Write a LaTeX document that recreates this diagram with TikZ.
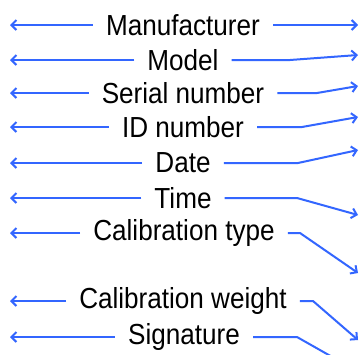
\documentclass[tikz,border=0pt]{standalone}
\usepackage{fontspec}
\setmainfont{Liberation Sans}[FakeStretch=0.9]
\usetikzlibrary{arrows.meta}
\definecolor{linkblue}{RGB}{51,102,255}
\begin{document}
\begin{tikzpicture}[x=1pt,y=-1pt,
  lbl/.style={inner xsep=13pt,inner ysep=0pt,font=\fontsize{29}{34}\selectfont},
  arr/.style={draw=linkblue,line width=2pt,-{Straight Barb[length=5pt,width=10pt]}}]
\clip (0,0) rectangle (361,354);
\fill[white] (0,0) rectangle (361,354);
\node[lbl] (n1) at (183,25) {Manufacturer};
\node[lbl] (n2) at (183,60) {Model};
\node[lbl] (n3) at (183,93) {Serial number};
\node[lbl] (n4) at (183,127) {ID number};
\node[lbl] (n5) at (183,163) {Date};
\node[lbl] (n6) at (183,198) {Time};
\node[lbl] (n7) at (184,233) {Calibration type};
\node[lbl] (n8) at (183,301) {Calibration weight};
\node[lbl] (n9) at (184,337) {Signature};
% left tips
\coordinate (l1) at (10,25);
\coordinate (l2) at (10,60);
\coordinate (l3) at (10,93);
\coordinate (l4) at (10,127);
\coordinate (l5) at (10,163);
\coordinate (l6) at (10,198);
\coordinate (l7) at (10,233);
\coordinate (l8) at (10,301);
\coordinate (l9) at (10,337);
\foreach \i in {1,...,9}{\draw[arr] (n\i.west) -- (l\i);}
% right tips
\coordinate (r1) at (358,25);
\coordinate (r2) at (358,55);
\coordinate (r3) at (358,86);
\coordinate (r4) at (358,117);
\coordinate (r5) at (358,150);
\coordinate (r6) at (358,215);
\coordinate (r7) at (358,273);
\coordinate (r8) at (358,340);
\coordinate (r9) at (364,375);
\draw[arr] (n1.east) -- (r1);
\draw[arr] (n2.east) -- (290,60) -- (r2);
\draw[arr] (n3.east) -- (317,93) -- (r3);
\draw[arr] (n4.east) -- (302,127) -- (r4);
\draw[arr] (n5.east) -- (298,163) -- (r5);
\draw[arr] (n6.east) -- (297,198) -- (r6);
\draw[arr] (n7.east) -- (300,233) -- (r7);
\draw[arr] (n8.east) -- (313,301) -- (r8);
\draw[arr] (n9.east) -- (297,337) -- (r9);
\end{tikzpicture}
\end{document}
